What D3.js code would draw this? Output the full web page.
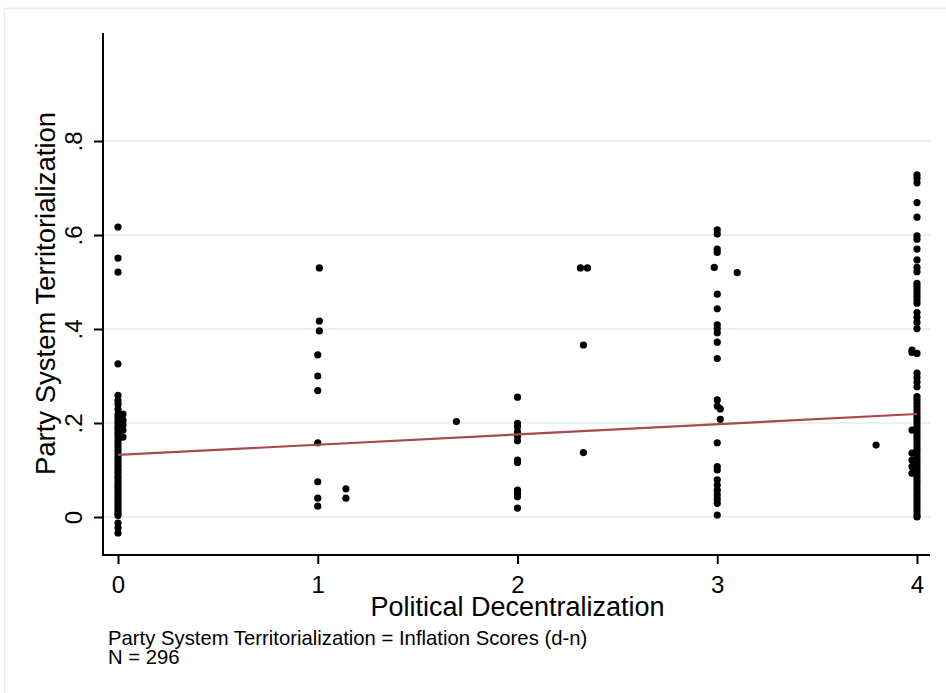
<!DOCTYPE html>
<html>
<head>
<meta charset="utf-8">
<script src="https://cdn.jsdelivr.net/npm/d3@7"></script>
<style>
  html, body { margin: 0; padding: 0; background: #fff; }
  svg { display: block; font-family: "Liberation Sans", Arial, Helvetica, sans-serif; }
</style>
</head>
<body>
<svg id="chart" width="946" height="693"></svg>
<script>
// tick values and labels
const xTicks = [0, 1, 2, 3, 4];
const yTicks = [0, 0.2, 0.4, 0.6, 0.8];
const yTickLabels = ['0', '.2', '.4', '.6', '.8'];

// scores by decentralization level
const atZero = [0.617, 0.551, 0.521, 0.326, 0.259, 0.248, 0.240, 0.229, 0.219, 0.212, 0.205, 0.198,
  0.191, 0.185, 0.178, 0.171, 0.163, 0.156, 0.149, 0.142, 0.135, 0.128, 0.121, 0.114, 0.108, 0.101,
  0.095, 0.088, 0.082, 0.075, 0.069, 0.063, 0.057, 0.050, 0.044, 0.038, 0.032, 0.026, 0.020, 0.014,
  0.008, 0.003, -0.013, -0.023, -0.034];
const nearZero = [0.219, 0.206, 0.196, 0.185, 0.170];
const atOne = [0.345, 0.300, 0.269, 0.158, 0.075, 0.040, 0.023];
const nearOne = [0.530, 0.417, 0.396];
const atOneSeven = [0.060, 0.040];
const atTwo = [0.255, 0.199, 0.192, 0.181, 0.172, 0.162, 0.121, 0.116, 0.057, 0.050, 0.043, 0.019];
const atTwoThird = [0.366, 0.137];
const atThree = [0.611, 0.602, 0.570, 0.563, 0.474, 0.443, 0.409, 0.401, 0.392, 0.372, 0.337, 0.249,
  0.236, 0.158, 0.107, 0.100, 0.079, 0.068, 0.057, 0.047, 0.038, 0.029, 0.004];
const nearThree = [0.230, 0.208];
const atFour = [0.728, 0.721, 0.711, 0.669, 0.638, 0.598, 0.591, 0.570, 0.547, 0.531, 0.522, 0.497,
  0.490, 0.483, 0.476, 0.469, 0.462, 0.455, 0.435, 0.425, 0.414, 0.401, 0.348, 0.306, 0.297, 0.287,
  0.277, 0.256, 0.249, 0.242, 0.235, 0.228, 0.221, 0.214, 0.207, 0.200, 0.193, 0.186, 0.179, 0.172,
  0.165, 0.158, 0.151, 0.144, 0.137, 0.130, 0.123, 0.116, 0.109, 0.102, 0.095, 0.088, 0.081, 0.074,
  0.067, 0.060, 0.053, 0.046, 0.039, 0.032, 0.025, 0.018, 0.011, 0.004, 0.000];
const nearFour = [0.355, 0.350, 0.185, 0.136, 0.121, 0.107, 0.093];
// scattered single observations [x, y]
const strays = [[1.694, 0.203], [2.315, 0.530], [2.35, 0.530], [2.985, 0.531], [3.10, 0.520], [3.795, 0.153]];

// linear fit
const fitIntercept = 0.132;
const fitSlope = 0.0218;

const groups = [
  [0, atZero], [0.025, nearZero], [1, atOne], [1.008, nearOne], [1.141, atOneSeven],
  [2, atTwo], [2.33, atTwoThird], [3, atThree], [3.015, nearThree], [4, atFour], [3.975, nearFour]
];
const points = groups.flatMap(([x, ys]) => ys.map(y => ({ x, y })))
  .concat(strays.map(([x, y]) => ({ x, y })));

const svg = d3.select('#chart');

// outer frame
svg.append('rect')
  .attr('x', 4.5).attr('y', 8.5)
  .attr('width', 980).attr('height', 720)
  .attr('fill', '#fff')
  .attr('stroke', '#e4ecec')
  .attr('stroke-width', 1.5);

const x = d3.scaleLinear().domain([0, 4]).range([118, 917]);
const y = d3.scaleLinear().domain([0, 0.8]).range([517, 141]);
const plotLeft = 103, plotRight = 930, plotTop = 33, plotBottom = 555;

// gridlines
svg.append('g')
  .selectAll('line')
  .data(yTicks)
  .enter()
  .append('line')
  .attr('x1', plotLeft).attr('x2', plotRight)
  .attr('y1', d => y(d)).attr('y2', d => y(d))
  .attr('stroke', '#eaf1f2')
  .attr('stroke-width', 2);

// y axis
const yAxis = svg.append('g')
  .attr('transform', `translate(${plotLeft},0)`)
  .call(d3.axisLeft(y).tickValues(yTicks).tickSize(9).tickPadding(0)
    .tickFormat((d, i) => yTickLabels[i]));
yAxis.select('.domain').remove();
yAxis.selectAll('.tick line').attr('stroke', '#000').attr('stroke-width', 2);
yAxis.selectAll('.tick text')
  .attr('x', null).attr('dy', null)
  .attr('text-anchor', 'middle')
  .attr('transform', 'translate(-21,0) rotate(-90)')
  .style('font-size', '24px')
  .attr('fill', '#000');
svg.append('line')
  .attr('x1', plotLeft).attr('x2', plotLeft)
  .attr('y1', plotTop).attr('y2', plotBottom + 1)
  .attr('stroke', '#000').attr('stroke-width', 2);

// x axis
const xAxis = svg.append('g')
  .attr('transform', `translate(0,${plotBottom})`)
  .call(d3.axisBottom(x).tickValues(xTicks).tickSize(9).tickPadding(12)
    .tickFormat(d3.format('d')));
xAxis.select('.domain').remove();
xAxis.selectAll('.tick line').attr('stroke', '#000').attr('stroke-width', 2);
xAxis.selectAll('.tick text')
  .style('font-size', '24px')
  .attr('fill', '#000');
svg.append('line')
  .attr('x1', plotLeft - 1).attr('x2', plotRight)
  .attr('y1', plotBottom).attr('y2', plotBottom)
  .attr('stroke', '#000').attr('stroke-width', 2);

// points
svg.append('g')
  .selectAll('circle')
  .data(points)
  .enter()
  .append('circle')
  .attr('cx', d => x(d.x))
  .attr('cy', d => y(d.y))
  .attr('r', 3.6)
  .attr('fill', '#000');

// fitted line
const fitLine = d3.line()
  .x(d => x(d))
  .y(d => y(fitIntercept + fitSlope * d));
svg.append('path')
  .datum([0, 4])
  .attr('d', fitLine)
  .attr('fill', 'none')
  .attr('stroke', '#a64a4e')
  .attr('stroke-width', 2.2);

// titles
svg.append('text')
  .attr('transform', `translate(55,${(110 + 477) / 2}) rotate(-90)`)
  .attr('text-anchor', 'middle')
  .style('font-size', '27.5px')
  .text('Party System Territorialization');

svg.append('text')
  .attr('x', (x(0) + x(4)) / 2)
  .attr('y', 616)
  .attr('text-anchor', 'middle')
  .style('font-size', '27px')
  .text('Political Decentralization');

// note
svg.append('text')
  .attr('x', 108).attr('y', 645)
  .style('font-size', '20.3px')
  .text('Party System Territorialization = Inflation Scores (d-n)');
svg.append('text')
  .attr('x', 108).attr('y', 664)
  .style('font-size', '20.3px')
  .text('N = 296');
</script>
</body>
</html>
